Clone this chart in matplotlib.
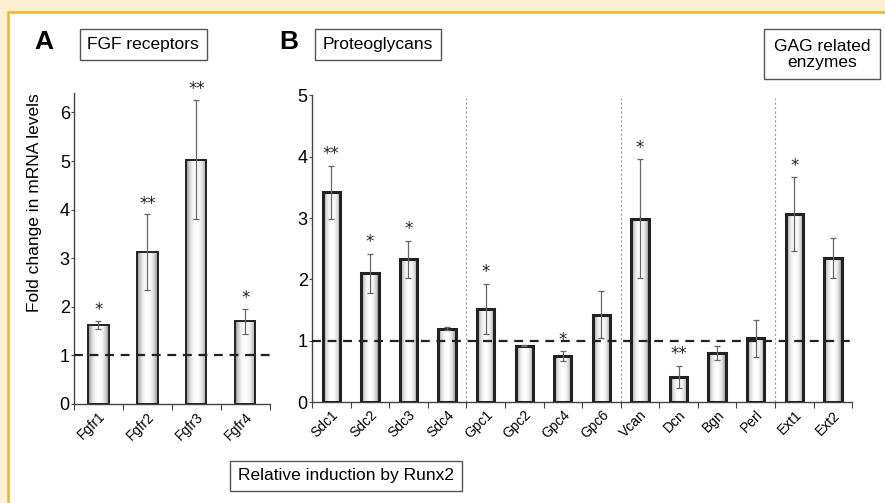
import numpy as np
import matplotlib
matplotlib.use('Agg')
import matplotlib.pyplot as plt
from matplotlib.patches import Rectangle

plt.rcParams['font.family'] = ['Liberation Sans', 'DejaVu Sans']

# panel A: FGF receptors
a_genes = ['Fgfr1', 'Fgfr2', 'Fgfr3', 'Fgfr4']
a_vals = [1.62, 3.12, 5.03, 1.70]
a_err = [0.08, 0.78, 1.22, 0.26]
a_sig = ['*', '**', '**', '*']

# panel B: proteoglycans + GAG enzymes
b_genes = ['Sdc1', 'Sdc2', 'Sdc3', 'Sdc4', 'Gpc1', 'Gpc2', 'Gpc4', 'Gpc6',
           'Vcan', 'Dcn', 'Bgn', 'Perl', 'Ext1', 'Ext2']
b_vals = [3.42, 2.10, 2.33, 1.20, 1.52, 0.92, 0.75, 1.43, 2.99, 0.42, 0.80, 1.04, 3.06, 2.35]
b_err = [0.43, 0.32, 0.30, 0.02, 0.41, 0.01, 0.08, 0.39, 0.97, 0.18, 0.11, 0.30, 0.60, 0.33]
b_sig = ['**', '*', '*', '', '*', '', '*', '', '*', '**', '', '', '*', '']
b_groups_end = [3, 7, 11]

fs = 12.5
fig = plt.figure(figsize=(8.85, 5.03), dpi=100)
fig.patch.set_facecolor('#fcf0d2')
fig.patches.append(Rectangle((0.0095, -0.02), 1.0, 0.996, transform=fig.transFigure,
                             facecolor='white', edgecolor='#f2b71d', lw=1.8, zorder=-5))

grad = np.abs(np.linspace(-1, 1, 64)) ** 1.6
grad = grad.reshape(1, -1)


def draw_panel(ax, genes, vals, err, sig, width, edge_lw, ytop, ticks):
    x = np.arange(len(genes))
    bars = ax.bar(x, vals, width=width, facecolor='none', edgecolor='#222222',
                  lw=edge_lw, zorder=3)
    for b in bars:
        im = ax.imshow(grad * 0.55, cmap='Greys', vmin=0, vmax=1, aspect='auto',
                       extent=[b.get_x(), b.get_x() + b.get_width(), 0, b.get_height()],
                       zorder=2, interpolation='bilinear')
        im.set_clip_path(b)
    ax.errorbar(x, vals, yerr=err, fmt='none', ecolor='#666666', elinewidth=0.9,
                capsize=2, capthick=0.9, zorder=4)
    for i in range(len(genes)):
        if sig[i]:
            ax.text(x[i], vals[i] + err[i] + 0.04, sig[i], ha='center', va='bottom',
                    fontsize=12, color='#222222', family='DejaVu Sans')
    ax.axhline(1, color='#222222', ls=(0, (4, 3)), lw=1.6, zorder=5)
    ax.set_xlim(-0.5, len(genes) - 0.5)
    ax.set_ylim(0, ytop)
    ax.set_yticks(ticks)
    ax.set_xticks(np.arange(len(genes) + 1) - 0.5)
    ax.set_xticklabels([])
    ax.set_xticks(x, minor=True)
    ax.set_xticklabels(genes, minor=True, rotation=45, ha='right', va='top',
                       rotation_mode='anchor', fontsize=fs - 2.5)
    ax.tick_params(axis='x', which='minor', length=0, pad=4)
    ax.tick_params(axis='x', which='major', length=4, color='#444444', direction='out')
    ax.tick_params(axis='y', length=2, labelsize=fs + 0.5, color='#444444', pad=1)
    for s in ['top', 'right']:
        ax.spines[s].set_visible(False)
    for s in ['left', 'bottom']:
        ax.spines[s].set_color('#444444')
        ax.spines[s].set_linewidth(1.0)
    ax.set_facecolor('none')


axA = fig.add_axes([0.0836, 0.197, 0.2214, 0.618])
draw_panel(axA, a_genes, a_vals, a_err, a_sig, 0.41, 1.4, 6.4, range(7))
axA.set_ylabel('Fold change in mRNA levels', fontsize=fs)
axA.yaxis.set_label_coords(-0.165, 0.646)

axB = fig.add_axes([0.3525, 0.2, 0.6105, 0.611])
draw_panel(axB, b_genes, b_vals, b_err, b_sig, 0.45, 2.2, 5.0, range(6))
for g in b_groups_end:
    axB.axvline(g + 0.5, ymax=0.99, color='#999999', ls=(0, (2, 2)), lw=0.8, zorder=1)

# panel letters and boxed titles
fig.text(0.05, 0.917, 'A', fontsize=19, fontweight='bold', ha='center', va='center')
fig.text(0.326, 0.917, 'B', fontsize=19, fontweight='bold', ha='center', va='center')
box = dict(boxstyle='square,pad=0.45', facecolor='white', edgecolor='#555555', lw=1.0)
fig.text(0.162, 0.912, 'FGF receptors', fontsize=fs, ha='center', va='center', bbox=box)
fig.text(0.427, 0.912, 'Proteoglycans', fontsize=fs, ha='center', va='center', bbox=box)
box_gag = dict(boxstyle='square,pad=0.55', facecolor='white', edgecolor='#555555', lw=1.0)
fig.text(0.929, 0.892, 'GAG related\nenzymes', fontsize=fs, ha='center', va='center',
         linespacing=1.1, bbox=box_gag)
fig.text(0.391, 0.054, 'Relative induction by Runx2', fontsize=fs, ha='center',
         va='center', bbox=box)

fig.savefig('out.png', dpi=100, facecolor=fig.get_facecolor())
